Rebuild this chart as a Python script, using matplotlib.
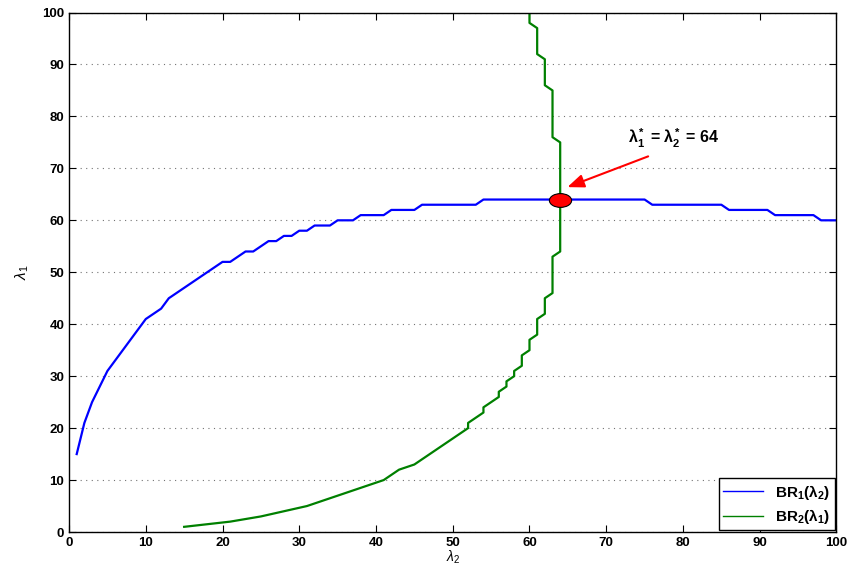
import matplotlib
matplotlib.use("Agg")
import matplotlib.pyplot as plt
import numpy as np
from matplotlib.path import Path

plt.rcParams['font.family'] = ['Liberation Sans', 'DejaVu Sans']
plt.rcParams['mathtext.fontset'] = 'custom'
plt.rcParams['mathtext.rm'] = 'Liberation Sans'
plt.rcParams['mathtext.it'] = 'Liberation Sans:italic'
plt.rcParams['mathtext.bf'] = 'Liberation Sans:bold'

# best response breakpoints (lambda_2 -> lambda_1); the game is symmetric,
# BR2 uses the same breakpoints with the axes swapped
br_x = [1, 2, 3, 5, 10, 12, 13, 20, 21, 23, 24, 26, 27, 28, 29, 30, 31, 32, 34, 35,
        37, 38, 41, 42, 45, 46, 53, 54, 75, 76, 85, 86, 91, 92, 97, 98, 100]
br_y = [15, 21, 25, 31, 41, 43, 45, 52, 52, 54, 54, 56, 56, 57, 57, 58, 58, 59, 59, 60,
        60, 61, 61, 62, 62, 63, 63, 64, 64, 63, 63, 62, 62, 61, 61, 60, 60]

eq_x, eq_y = 64, 64
eq_label = r'$\mathbf{\lambda^*_1}$ = $\mathbf{\lambda^*_2}$ = 64'

fig = plt.figure(figsize=(8.48, 5.64), dpi=100)
ax = fig.add_axes([0.0814, 0.0567, 0.9050, 0.9211])

ax.plot(br_x, br_y, color=(0, 0, 1), lw=1.6, label=r'BR$_\mathbf{1}$($\mathbf{\lambda}_\mathbf{2}$)')
ax.plot(br_y, br_x, color=(0, 0.5, 0), lw=1.6, label=r'BR$_\mathbf{2}$($\mathbf{\lambda}_\mathbf{1}$)')

# elliptical marker like the stretched matlab circle
circ = Path.unit_circle()
ell = Path(circ.vertices * np.array([1.0, 0.62]), circ.codes)
ax.plot([eq_x], [eq_y], marker=ell, ms=16, mfc='red', mec='black', mew=0.8, ls='none', zorder=5)

ax.annotate('', xy=(64.6, 66.2), xytext=(75.8, 72.5),
            arrowprops=dict(arrowstyle='-|>,head_length=1.0,head_width=0.4', color='red', lw=1.5))
ax.text(72.9, 75.8, eq_label, fontsize=11.5, fontweight='bold', va='center', ha='left')

ax.set_xlim(0, 100)
ax.set_ylim(0, 100)
ax.set_xticks(np.arange(0, 101, 10))
ax.set_yticks(np.arange(0, 101, 10))
ax.tick_params(direction='in', top=True, right=True, length=5, width=0.8, labelsize=9.5)
for lab in ax.get_xticklabels() + ax.get_yticklabels():
    lab.set_fontweight('bold')
ax.yaxis.grid(True, linestyle=(0, (1, 4)), color='0.45', lw=0.8)
for s in ax.spines.values():
    s.set_linewidth(1.0)

ax.set_xlabel(r'$\lambda_2$', fontsize=10, labelpad=-0.5)
ax.set_ylabel(r'$\lambda_1$', fontsize=11, labelpad=8)

leg = ax.legend(loc='lower right', fontsize=11, fancybox=False, edgecolor='black',
                framealpha=1, handlelength=2.6, borderaxespad=0.1, borderpad=0.3,
                labelspacing=0.35)
leg.get_frame().set_linewidth(1.0)
for t in leg.get_texts():
    t.set_fontweight('bold')
for l in leg.get_lines():
    l.set_linewidth(1.0)

fig.savefig('out.png', dpi=100)
